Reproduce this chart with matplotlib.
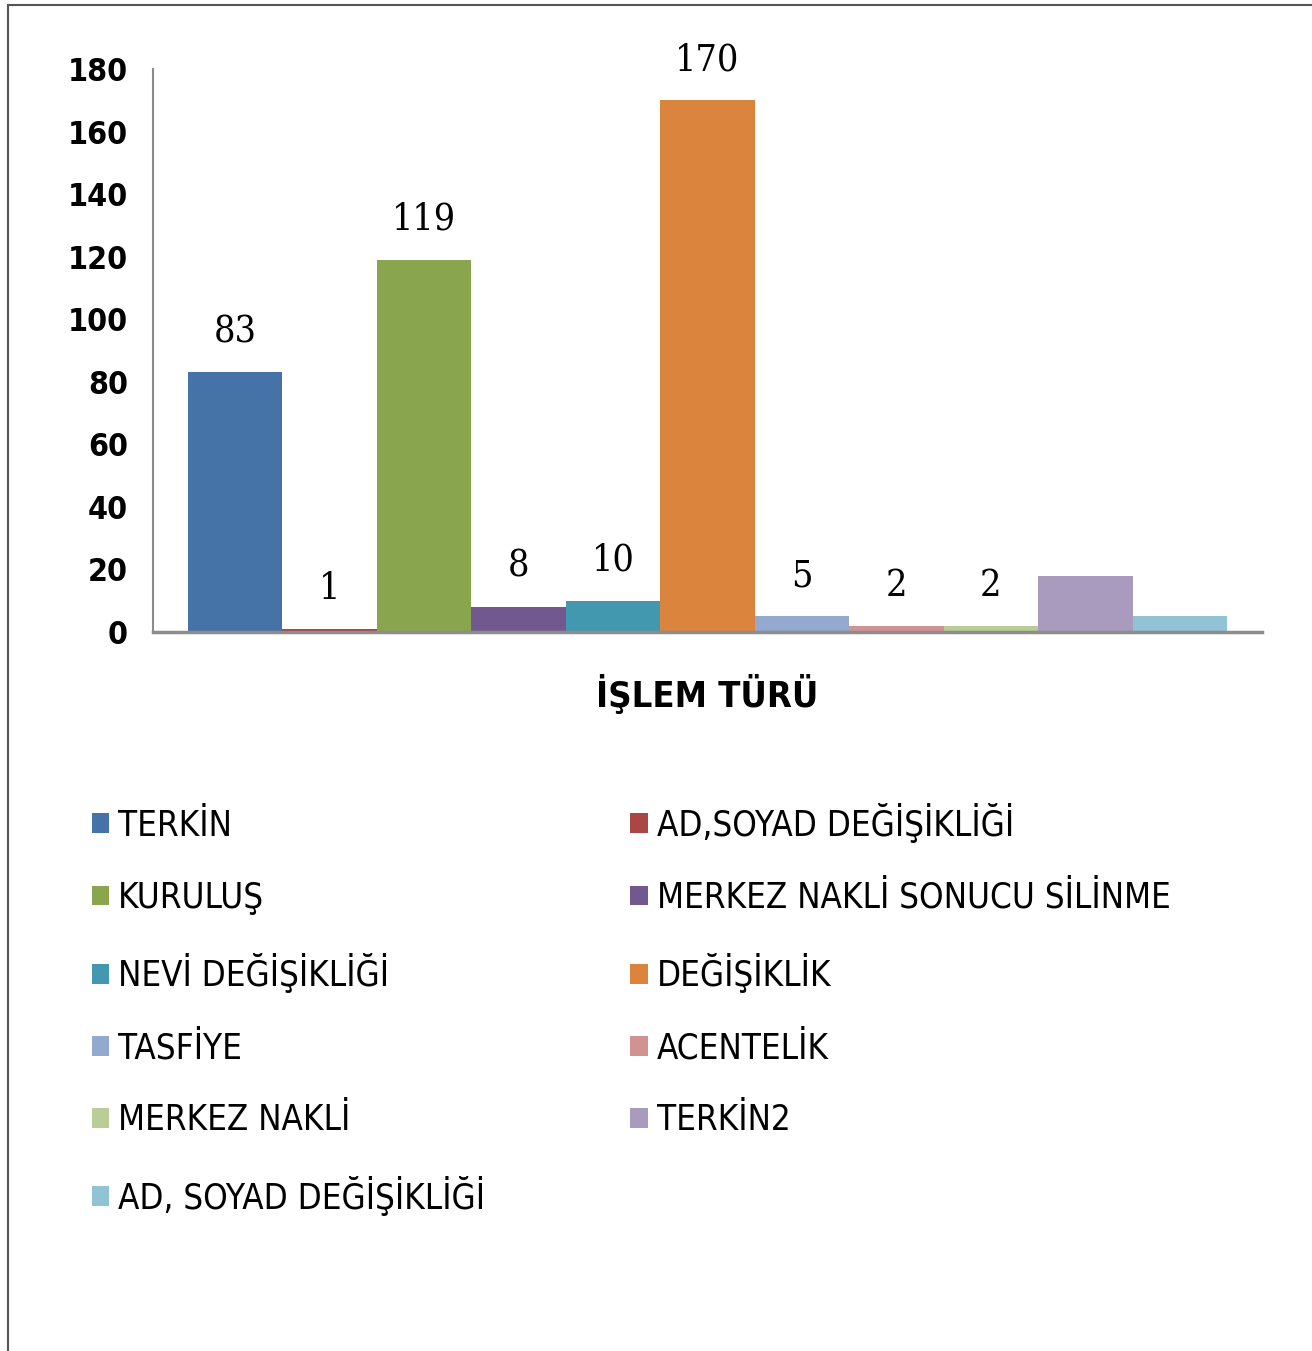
import matplotlib
matplotlib.use("Agg")
import matplotlib.pyplot as plt
from matplotlib.patches import Patch, Rectangle

categories = ["TERKİN", "AD,SOYAD DEĞİŞİKLİĞİ", "KURULUŞ", "MERKEZ NAKLİ SONUCU SİLİNME",
              "NEVİ DEĞİŞİKLİĞİ", "DEĞİŞİKLİK", "TASFİYE", "ACENTELİK", "MERKEZ NAKLİ",
              "TERKİN2", "AD, SOYAD DEĞİŞİKLİĞİ"]
values = [83, 1, 119, 8, 10, 170, 5, 2, 2, 18, 5]
labels = ["83", "1", "119", "8", "10", "170", "5", "2", "2", "", ""]
colors = ["#4572A7", "#AA4643", "#89A54E", "#71588F", "#4198AF", "#DB843D",
          "#93A9CF", "#D19392", "#B9CD96", "#A99BBD", "#92C3D4"]
yticks = [0, 20, 40, 60, 80, 100, 120, 140, 160, 180]
xlabel = "İŞLEM TÜRÜ"

sans = ["DejaVu Sans"]
serif = ["DejaVu Serif"]

fig = plt.figure(figsize=(13.12, 13.51), dpi=100)
ax = fig.add_axes([153/1312, 1-632/1351, (1262-153)/1312, (632-69)/1351])

xs = [i + 0.5 for i in range(len(values))]
bars = ax.bar(xs, values, width=1.0, color=colors, edgecolor="none")
for x, v, lab in zip(xs, values, labels):
    if lab:
        ax.annotate(lab, (x, v), xytext=(0, 16), textcoords="offset points",
                    ha="center", va="bottom", fontsize=27, family=serif,
                    fontstretch="condensed")

ax.set_xlim(-0.37, len(values) + 0.37)
ax.set_ylim(0, 180)
ax.set_yticks(yticks)
ax.set_yticklabels([str(t) for t in yticks], fontsize=23, fontweight="bold",
                   family=sans, fontstretch="condensed")
ax.set_xticks([])
ax.tick_params(axis="y", length=0, pad=18)
for s in ["top", "right"]:
    ax.spines[s].set_visible(False)
ax.spines["left"].set_color("#8c8c8c")
ax.spines["left"].set_linewidth(1.5)
ax.spines["bottom"].set_color("#8c8c8c")
ax.spines["bottom"].set_linewidth(2.5)
ax.set_xlabel(xlabel, fontsize=26, fontweight="bold", family=sans,
              fontstretch="condensed", labelpad=30)

# legend: row-major ordering in 2 columns
order = list(range(0, 11, 2)) + list(range(1, 11, 2))
handles = [Patch(facecolor=colors[i], edgecolor="none") for i in order]
labs = [categories[i] for i in order]
fig.legend(handles, labs, ncol=2, loc="upper left", bbox_to_anchor=(0.046, 0.429),
           frameon=False, prop={"family": sans, "size": 25, "stretch": "condensed"},
           handlelength=0.5, handleheight=0.5, handletextpad=0.25,
           labelspacing=1.1, columnspacing=4.2)

fig.patches.append(Rectangle((8/1312, -0.05), 1.2, 1 - 5/1351 + 0.05,
                             transform=fig.transFigure, fill=False,
                             edgecolor="#555555", linewidth=1.5))

fig.savefig("out.png", dpi=100, facecolor="white")
